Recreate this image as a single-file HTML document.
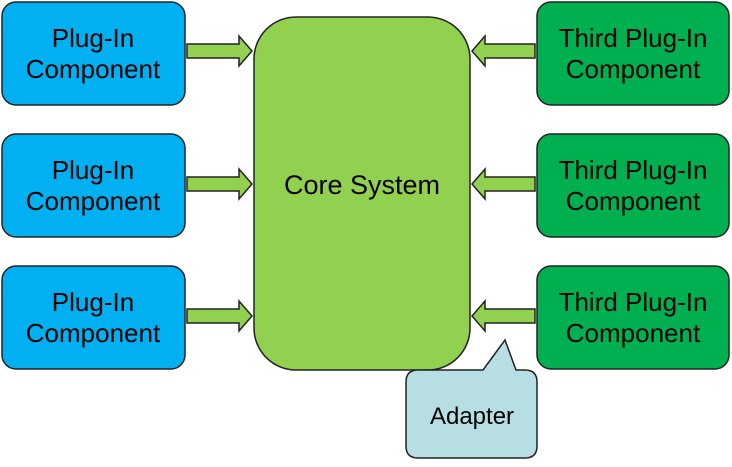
<!DOCTYPE html>
<html><head><style>
body{margin:0;width:732px;height:462px;background:#fff;overflow:hidden}
</style></head><body>
<svg width="732" height="462" xmlns="http://www.w3.org/2000/svg" font-family="Liberation Sans, DejaVu Sans, sans-serif">
<g stroke="#222" stroke-width="1.5">
<rect x="2" y="2" width="183" height="103" rx="14" fill="#00b0f0"/>
<rect x="2" y="134" width="183" height="103" rx="14" fill="#00b0f0"/>
<rect x="2" y="266" width="183" height="103" rx="14" fill="#00b0f0"/>
<rect x="537" y="2" width="192" height="103" rx="14" fill="#00b050"/>
<rect x="537" y="134" width="192" height="103" rx="14" fill="#00b050"/>
<rect x="537" y="266" width="192" height="103" rx="14" fill="#00b050"/>
<rect x="254" y="17" width="216" height="353" rx="42" fill="#92d050"/>
<g fill="#92d050">
<path d="M187 44H239V36L252 51L239 66V58H187Z"/>
<path d="M187 177H239V169L252 184L239 199V191H187Z"/>
<path d="M187 309H239V301L252 316L239 331V323H187Z"/>
<path d="M535 44H485V36L472 51L485 66V58H535Z"/>
<path d="M535 177H485V169L472 184L485 199V191H535Z"/>
<path d="M535 309H485V301L472 316L485 331V323H535Z"/>
</g>
<path d="M418 370H483L505 340L516 370H525Q537 370 537 382V446Q537 458 525 458H418Q406 458 406 446V382Q406 370 418 370Z" fill="#b7dfe3"/>
</g>
<g font-size="26" text-anchor="middle" fill="#000">
<text x="93" y="47">Plug-In</text><text x="93" y="78">Component</text>
<text x="93" y="179">Plug-In</text><text x="93" y="210">Component</text>
<text x="93" y="311">Plug-In</text><text x="93" y="342">Component</text>
<text x="633" y="47">Third Plug-In</text><text x="633" y="78">Component</text>
<text x="633" y="179">Third Plug-In</text><text x="633" y="210">Component</text>
<text x="633" y="311">Third Plug-In</text><text x="633" y="342">Component</text>
<text x="362" y="194" font-size="27">Core System</text>
<text x="472" y="424" font-size="24">Adapter</text>
</g>
</svg>
</body></html>
